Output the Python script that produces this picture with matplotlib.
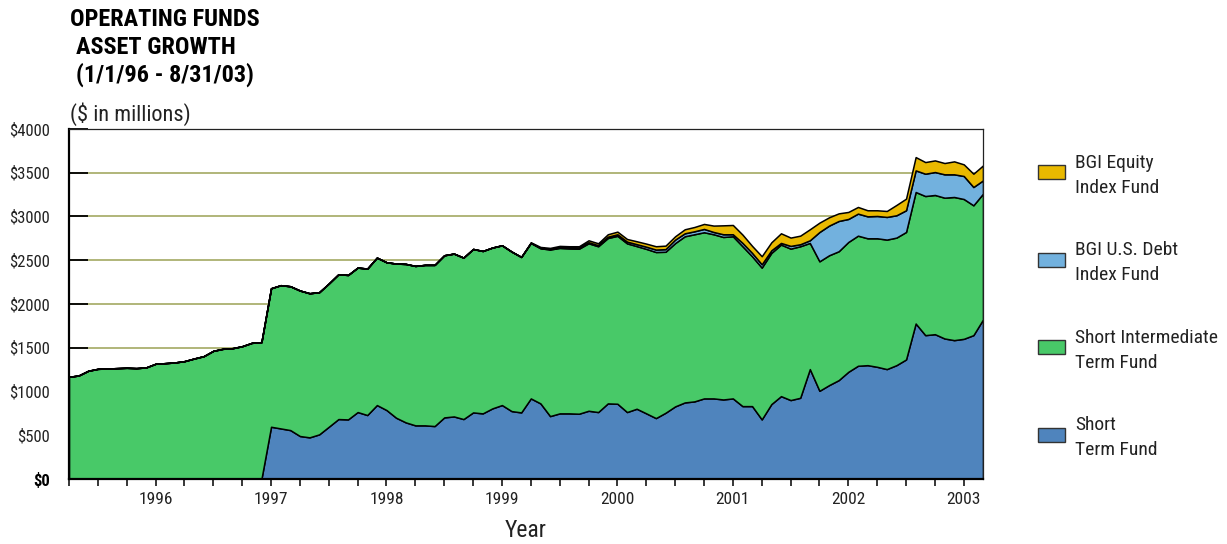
import matplotlib
matplotlib.use("Agg")
import matplotlib.pyplot as plt
from matplotlib.patches import Rectangle
import numpy as np

plt.rcParams['font.family'] = ['Liberation Sans Narrow', 'Arial Narrow', 'Roboto Condensed',
                               'Archivo Narrow', 'PT Sans Narrow', 'Liberation Sans',
                               'DejaVu Sans']

# ---------------- data (monthly, $ millions) ----------------
year_labels = ['1996', '1997', '1998', '1999', '2000', '2001', '2002', '2003']
series_names = ['Short\nTerm Fund', 'Short Intermediate\nTerm Fund',
                'BGI U.S. Debt\nIndex Fund', 'BGI Equity\nIndex Fund']

short_term = [0] * 21 + [
    597, 578, 559, 491, 476, 510, 597, 685, 681, 765, 731, 845,
    788, 700, 647, 613, 613, 605, 704, 715, 685, 761, 750, 807,
    845, 776, 761, 921, 864, 719, 750, 750, 746, 780, 765, 864,
    860, 765, 803, 750, 696, 757, 830, 875, 887, 921, 921, 909,
    921, 833, 833, 681, 856, 947, 902, 928, 1256, 1008, 1073, 1130,
    1225, 1294, 1301, 1282, 1256, 1301, 1366, 1777, 1644, 1655, 1606, 1587,
    1602, 1644, 1823]

short_intermediate = [
    1168, 1183, 1237, 1259, 1263, 1267, 1271, 1267, 1275, 1317, 1324, 1332,
    1347, 1377, 1404, 1465, 1488, 1495, 1518, 1556, 1564, 1583, 1637, 1644,
    1663, 1647, 1625, 1637, 1655, 1651, 1651, 1674, 1685, 1689, 1762, 1811,
    1822, 1834, 1842, 1853, 1861, 1845, 1868, 1856, 1838, 1826, 1823, 1777,
    1776, 1773, 1904, 1891, 1885, 1886, 1914, 1895, 1890, 1919, 1928, 1859,
    1880, 1898, 1840, 1866, 1899, 1910, 1899, 1876, 1857, 1853, 1827, 1712,
    1735, 1728, 1732, 1731, 1732, 1442, 1480, 1484, 1473, 1484, 1487, 1450,
    1469, 1480, 1458, 1457, 1503, 1590, 1591, 1609, 1636, 1598, 1484, 1438]

debt_index = [0] * 48 + [
    3, 5, 6, 8, 8, 10, 12, 12, 15, 18, 20, 22,
    25, 28, 30, 40, 34, 34, 38, 26, 31, 23, 38, 39,
    38, 30, 19, 31, 23, 30, 335, 339, 346, 263, 252, 251,
    255, 259, 255, 248, 247, 255, 262, 267, 259, 263, 209, 152]

equity_index = [0] * 48 + [
    5, 10, 12, 15, 17, 18, 22, 22, 28, 30, 30, 33,
    35, 38, 40, 38, 46, 49, 57, 73, 102, 106, 95, 80,
    92, 91, 110, 95, 98, 126, 107, 95, 87, 80, 76, 69,
    65, 68, 118, 133, 152, 133, 133, 129, 148, 133, 152, 171]

y_ticks = [0, 500, 1000, 1500, 2000, 2500, 3000, 3500, 4000]

# ---------------- style ----------------
C_BLUE = '#4f84bd'
C_GREEN = '#48c968'
C_LBLUE = '#72b1de'
C_GOLD = '#e9b900'
C_GRID = '#aab06e'
colors = [C_BLUE, C_GREEN, C_LBLUE, C_GOLD]

W, H = 1227, 544
fig = plt.figure(figsize=(W / 100, H / 100), dpi=100)


def fx(x):
    return x / W


def fy(y):
    return 1 - y / H


ax = fig.add_axes([fx(69), fy(479), (983 - 69) / W, (479 - 129) / H])

months = np.arange(len(short_term))
ax.stackplot(months, short_term, short_intermediate, debt_index, equity_index,
             colors=colors, edgecolor='black', linewidth=1.1, zorder=2)

ax.set_xlim(0, len(short_term) - 1)
ax.set_ylim(0, 4000)
ax.set_axisbelow(True)

# y axis
ax.set_yticks(y_ticks)
ax.set_yticklabels(['$%d' % v for v in y_ticks])
ax.tick_params(axis='y', direction='in', length=14, width=1.3, color='black',
               pad=14, labelsize=12, labelcolor='#222222')
for lbl in ax.get_yticklabels():
    if lbl.get_text() == '$0':
        lbl.set_fontweight('bold')
        lbl.set_color('black')
ax.yaxis.grid(True, color=C_GRID, linewidth=1.3)
for gl, v in zip(ax.yaxis.get_gridlines(), y_ticks):
    if v in (0, 4000):
        gl.set_visible(False)

# x axis: quarterly ticks, year labels
xt = list(range(0, len(short_term), 3))
xl = []
for t in xt:
    if (t - 9) % 12 == 0 and 0 <= (t - 9) // 12 < len(year_labels):
        xl.append(year_labels[(t - 9) // 12])
    else:
        xl.append('')
ax.set_xticks(xt)
ax.set_xticklabels(xl)
ax.tick_params(axis='x', direction='out', length=5, width=1.1, color='black',
               pad=4, labelsize=12.5, labelcolor='#222222')

for side in ['left', 'bottom']:
    ax.spines[side].set_linewidth(1.6)
    ax.spines[side].set_color('black')
for side in ['top', 'right']:
    ax.spines[side].set_linewidth(0.9)
    ax.spines[side].set_color('#222222')

# axis title
fig.text(fx(526), fy(537), 'Year', ha='center', va='baseline', fontsize=17,
         color='#222222')

# title
fig.text(fx(70), fy(26), 'OPERATING FUNDS', ha='left', va='baseline',
         fontsize=17.5, fontweight='bold', color='black')
fig.text(fx(76), fy(54), 'ASSET GROWTH', ha='left', va='baseline',
         fontsize=17.5, fontweight='bold', color='black')
fig.text(fx(76), fy(82), '(1/1/96 - 8/31/03)', ha='left', va='baseline',
         fontsize=17.5, fontweight='bold', color='black')
fig.text(fx(70), fy(121), '($ in millions)', ha='left', va='baseline',
         fontsize=16, color='#222222')

# legend (manual)
legend_rows = [
    (C_GOLD, series_names[3], 172, 168),
    (C_LBLUE, series_names[2], 260, 255),
    (C_GREEN, series_names[1], 347, 343),
    (C_BLUE, series_names[0], 435, 430),
]
for col, name, pc, base in legend_rows:
    fig.add_artist(Rectangle((fx(1038), fy(pc + 7)), 27 / W, 14 / H,
                             transform=fig.transFigure, facecolor=col,
                             edgecolor='#333333', linewidth=1.0))
    for k, line in enumerate(name.split('\n')):
        fig.text(fx(1075), fy(base + 25 * k), line, ha='left', va='baseline',
                 fontsize=14, color='#222222')

fig.savefig('out.png', dpi=100)
